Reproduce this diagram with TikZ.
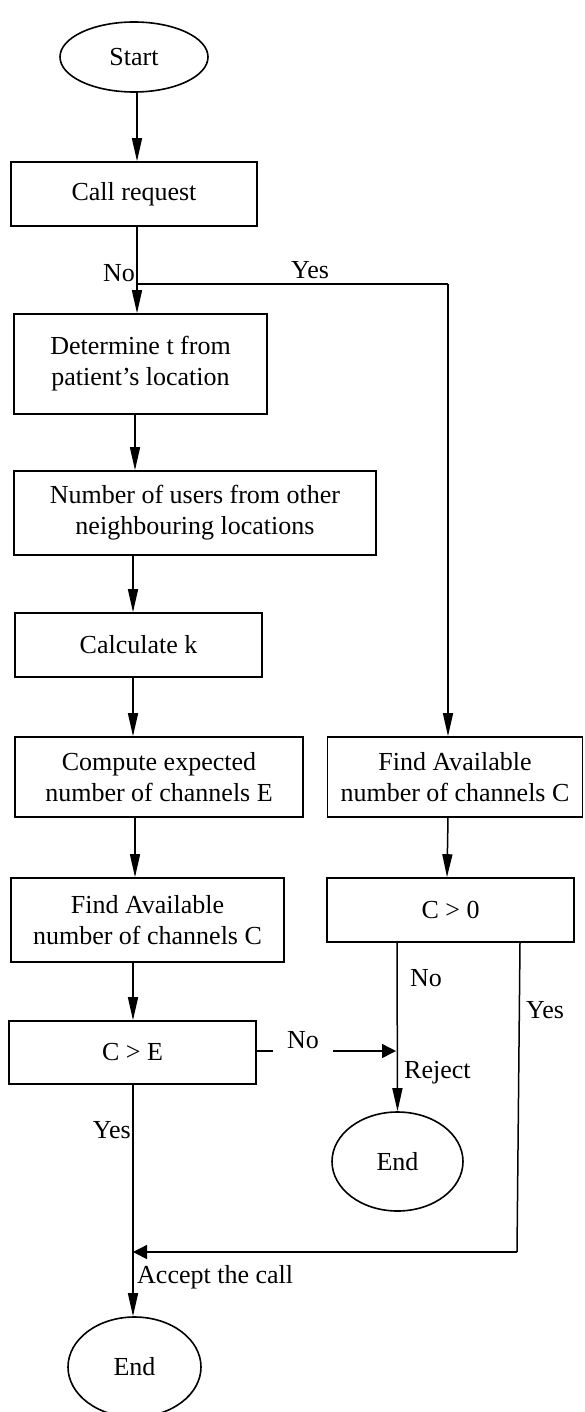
\documentclass[tikz,border=0pt]{standalone}
\usepackage{fontspec}
\setmainfont{Liberation Serif}
\usetikzlibrary{shapes.geometric,arrows.meta,calc}
\begin{document}
\begin{tikzpicture}[x=1pt,y=-1pt,
  every node/.style={font=\fontsize{26}{31}\selectfont, inner sep=0pt},
  procbox/.style={draw, line width=1.6pt, rectangle, align=center},
  term/.style={draw, line width=1.6pt, ellipse},
  line/.style={line width=1.5pt},
  varr/.style={line width=1.5pt, -{Triangle[length=23pt,width=10pt]}},
  harr/.style={line width=1.5pt, -{Triangle[length=14pt,width=14pt]}},
  lbl/.style={inner sep=0pt}
]
\useasboundingbox (0,0) rectangle (584,1412);

% nodes
\node[term, minimum width=148pt, minimum height=70pt] (start) at (134,57) {Start};
\node[procbox, minimum width=246pt, minimum height=64pt] (call) at (134,194) {Call request};
\node[procbox, minimum width=253pt, minimum height=100pt] (det) at (140.5,364) {Determine t from\\patient’s location};
\node[procbox, minimum width=362pt, minimum height=84pt] (num) at (195,513) {Number of users from other\\neighbouring locations};
\node[procbox, minimum width=247pt, minimum height=64pt] (calc) at (138.5,645) {Calculate k};
\node[procbox, minimum width=288pt, minimum height=80pt] (comp) at (159,777) {Compute expected\\number of channels E};
\node[procbox, minimum width=273pt, minimum height=84pt] (findL) at (147.5,920) {Find Available\\number of channels C};
\node[procbox, minimum width=247pt, minimum height=63pt] (ce) at (132.5,1052.5) {C > E};
\node[procbox, minimum width=255pt, minimum height=80pt] (findR) at (455,777) {Find Available\\number of channels C};
\node[procbox, minimum width=247pt, minimum height=64pt] (czero) at (450.5,910) {C > 0};
\node[term, minimum width=131pt, minimum height=99pt] (endR) at (397.5,1161.5) {End};
\node[term, minimum width=133pt, minimum height=100pt] (endL) at (134.5,1367) {End};

% coordinates
\coordinate (j) at (137,284);
\coordinate (jr) at (448,284);
\coordinate (rej) at (396,1051);
\coordinate (ycorner) at (517,1252);
\coordinate (acc) at (133,1252);

% connectors
\draw[varr] ([xshift=3pt]start.south) -- ([xshift=3pt]call.north);
\draw[line] ([xshift=3pt]call.south) -- (j);
\draw[varr] (j) -- ([xshift=-3.5pt]det.north);
\draw[line] (j) -- (jr);
\draw[varr] (jr) -- ([xshift=-7pt]findR.north);
\draw[varr] ([xshift=-5.5pt]det.south) -- ([xshift=-60pt]num.north);
\draw[varr] ([xshift=-62pt]num.south) -- ([xshift=-5.5pt]calc.north);
\draw[varr] ([xshift=-5.5pt]calc.south) -- ([xshift=-26pt]comp.north);
\draw[varr] ([xshift=-24pt]comp.south) -- ([xshift=-12.5pt]findL.north);
\draw[varr] ([xshift=-14.5pt]findL.south) -- ([xshift=0.5pt]ce.north);
\draw[varr] ([xshift=-7pt]findR.south) -- ([xshift=-3.5pt]czero.north);
\draw[varr] ([xshift=-53.5pt]czero.south) -- (endR.north);
\draw[harr] (ce.east |- rej) -- (rej);
\draw[line] ([xshift=69.5pt]czero.south) -- (ycorner);
\draw[harr] (ycorner) -- (acc);
\draw[varr] ([xshift=0.5pt]ce.south) -- ([xshift=0.5pt]ce.south |- endL.north);

% labels
\node[lbl, anchor=base east] (lno1) at (135,282) {No};
\node[lbl, anchor=base] (lyes1) at (310,279) {Yes};
\node[lbl, anchor=base, fill=white, minimum width=60pt] (lno2) at (303,1048) {No\vphantom{gjp}};
\node[lbl, anchor=base west] (lno3) at (410,986) {No};
\node[lbl, anchor=base west] (lrej) at (404,1078) {Reject};
\node[lbl, anchor=base west] (lyes2) at (526,1018) {Yes};
\node[lbl, anchor=base east] (lyes3) at (131,1138) {Yes};
\node[lbl, anchor=base west] (lacc) at (137,1283) {Accept the call};
\end{tikzpicture}
\end{document}
